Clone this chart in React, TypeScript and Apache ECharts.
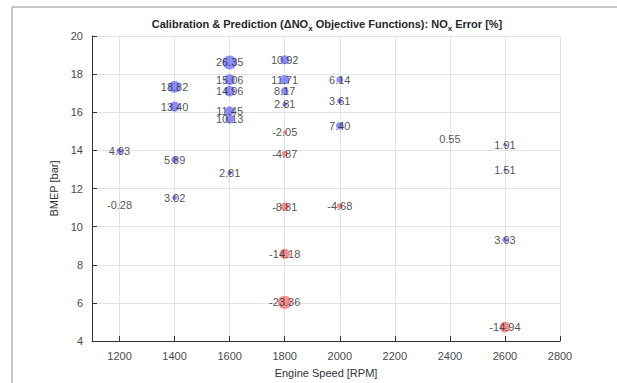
import React, { useEffect, useRef } from "react";
import * as echarts from "echarts";

const rpm = [1600, 1400, 1600, 1600, 1400, 1600, 1600, 1200, 1400, 1600, 1800, 1800, 1800, 1800, 2000, 2000, 2000, 1800, 1800, 2400, 2600, 2600, 1200, 1400, 1800, 2000, 1800, 1800, 2600, 2600];
const bmep = [18.61, 17.33, 17.71, 17.11, 16.3, 16.07, 15.64, 13.96, 13.52, 12.83, 18.75, 17.71, 17.11, 16.42, 17.71, 16.59, 15.29, 14.94, 13.82, 14.6, 14.29, 12.95, 11.13, 11.52, 11.05, 11.08, 8.57, 6.03, 9.31, 4.73];
const errors = [26.35, 18.82, 15.06, 14.96, 13.4, 11.45, 10.13, 4.93, 5.89, 2.81, 10.92, 11.71, 8.17, 2.81, 6.14, 3.61, 7.4, -2.05, -4.87, 0.55, 1.91, 1.51, -0.28, 3.02, -8.81, -4.68, -14.18, -23.36, 3.93, -14.94];
const xTicks = [1200, 1400, 1600, 1800, 2000, 2200, 2400, 2600, 2800];

const FONT = "'Liberation Sans', Arial, Helvetica, sans-serif";

export default function App() {
  const ref = useRef<HTMLDivElement>(null);
  useEffect(() => {
    if (!ref.current) return;
    const chart = echarts.init(ref.current, undefined, { renderer: "svg" });
    const data = rpm.map((r, i) => ({
      value: [r, bmep[i], errors[i]],
      itemStyle: { color: errors[i] >= 0 ? "rgba(88,88,250,0.85)" : "rgba(245,90,90,0.85)" },
    }));
    chart.setOption({
      animation: false,
      backgroundColor: "#ffffff",
      textStyle: { fontFamily: FONT },
      grid: { left: 92, top: 36, right: 57, bottom: 39 },
      xAxis: {
        type: "value",
        min: 1100,
        max: 2800,
        name: "Engine Speed [RPM]",
        nameLocation: "middle",
        nameGap: 26,
        nameTextStyle: { fontSize: 11, color: "#333", fontFamily: FONT },
        axisLine: { show: true, lineStyle: { color: "#333", width: 1 } },
        axisTick: { show: true, inside: true, length: 5, customValues: xTicks, lineStyle: { color: "#333" } },
        axisLabel: {
          customValues: xTicks,
          formatter: (v: number) => String(v),
          fontSize: 11,
          color: "#4a4a4a",
          margin: 9,
          fontFamily: FONT,
        },
        splitLine: { show: true, lineStyle: { color: "#e3e3e3", width: 1 } },
      },
      yAxis: {
        type: "value",
        min: 4,
        max: 20,
        interval: 2,
        name: "BMEP [bar]",
        nameLocation: "middle",
        nameGap: 26,
        nameTextStyle: { fontSize: 11, color: "#333", fontFamily: FONT },
        axisLine: { show: true, lineStyle: { color: "#333", width: 1 } },
        axisTick: { show: true, inside: true, length: 5, lineStyle: { color: "#333" } },
        axisLabel: { fontSize: 11, color: "#4a4a4a", margin: 9, fontFamily: FONT },
        splitLine: { show: true, lineStyle: { color: "#e3e3e3", width: 1 } },
      },
      graphic: [
        { type: "line", shape: { x1: 12, y1: 7, x2: 617, y2: 7 }, style: { stroke: "#b4b4b4", lineWidth: 1.5 } },
        { type: "line", shape: { x1: 12, y1: 7, x2: 12, y2: 383 }, style: { stroke: "#b4b4b4", lineWidth: 1.5 } },
        {
          type: "text",
          x: 327,
          y: 24,
          style: {
            text: "{b|Calibration & Prediction (ΔNO}{s|x}{b| Objective Functions): NO}{s|x}{b| Error [%]}",
            align: "center",
            verticalAlign: "middle",
            rich: {
              b: { fontSize: 11, fontWeight: "bold", fill: "#262626", fontFamily: FONT, lineHeight: 14 },
              s: { fontSize: 8, fontWeight: "bold", fill: "#262626", fontFamily: FONT, padding: [8, 0, 0, 0], lineHeight: 8 },
            },
          },
        },
      ],
      series: [
        {
          type: "scatter",
          data,
          symbol: "circle",
          symbolSize: (v: number[]) => 2.75 * Math.sqrt(Math.abs(v[2])),
          label: {
            show: true,
            position: "inside",
            formatter: (p: any) => p.value[2].toFixed(2),
            fontSize: 11,
            color: "#262626",
            fontFamily: FONT,
          },
          emphasis: { disabled: true },
        },
      ],
    });
    return () => chart.dispose();
  }, []);
  return <div ref={ref} style={{ position: "fixed", left: 0, top: 0, width: 617, height: 383 }} />;
}
